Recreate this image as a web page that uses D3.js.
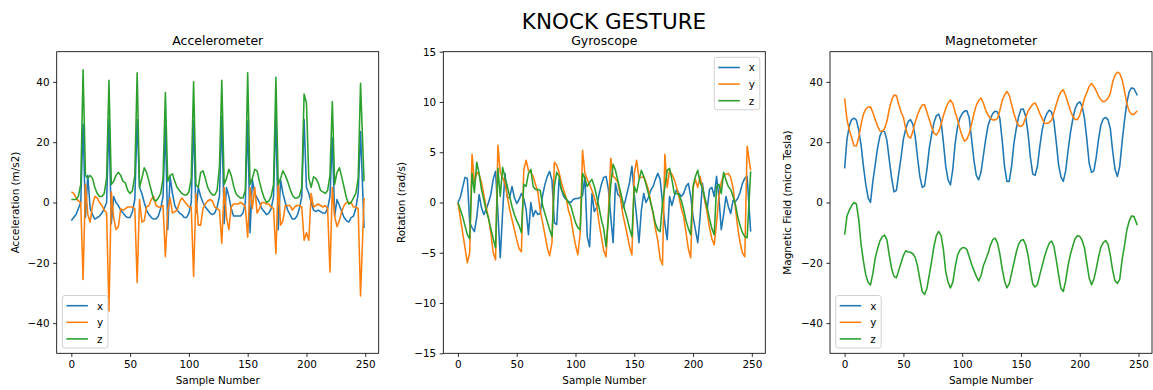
<!DOCTYPE html>
<html lang="en">
<head>
<meta charset="UTF-8">
<title>Knock Gesture</title>
<script src="https://d3js.org/d3.v7.min.js"></script>
<style>
  body { margin: 0; background: #fff; }
  svg { display: block; font-family: "DejaVu Sans", sans-serif; }
</style>
</head>
<body>
<svg width="1153" height="390"></svg>
<script>
// sample numbers (every 2nd sample, last one is 249)
const samples = d3.range(0, 248, 2).concat([249]);

// accelerometer (m/s2)
const accX = [
  -6, -5, -4, -2, 0, 26, -5, 9, -2, -4,
  -5.5, -5, -4.5, -3.5, -2, 0, 27.5, -7, 2, 0,
  -1, -2.5, -3.5, -4.5, -5, -5, -3, 1, 27.5, 5,
  3, 0, -2.5, -4, -5, -5.5, -5.5, -4.5, -2, 2,
  25.5, -9, 8.5, 3, -1, -2.5, -3.5, -4, -5, -5,
  -3.5, 0, 27, -3.5, 5, 2, 0, -1.5, -2.5, -3.5,
  -4, -3.5, -1.5, 2, 28.5, -7, 5, 2, -2, -4.5,
  -4.5, -4.5, -4.5, -3.5, 0, 27, -10, 7.5, 3, 1.5,
  0, -2, -3, -4, -3.5, -2, 2, 29, -9, 7.5,
  3, 0, -2.5, -4, -5.5, -5.5, -4.5, -2, 2, 27.5,
  5, 3, 0, -2.5, -3, -2.5, -3, -3.5, -3.5, -2,
  2, 21.5, -4.5, 1, -1, -3, -5, -6, -6.5, -5,
  -4.5, -2, 3, 23.5, -8.5
];
const accY = [
  3.5, 3, 1.5, 0.5, 0, -25.5, 6, -4, -6.5, -1,
  2, 1.5, 0, -1, -2.5, -3.5, -36, 3.5, -5, -9,
  -8, -2, -2.5, -2, -1.5, -1.5, -1.5, -2, -26.5, 1,
  -6.5, -6, -1.5, -1, 1, 2, -1, -1.5, -1.5, -1,
  -18, -2.5, 1.5, -3.5, -3, -2.5, 0, 1.5, 0.5, -0.5,
  -1.5, -1.5, -24.5, 3, -7.5, -7.5, -2, -0.5, 0.5, 1,
  0.5, -1.5, -2, -2.5, -13.5, 5, -5, -9, -1.5, -0.5,
  -0.5, -0.5, 0, -0.5, -1.5, -11.5, 5, -2, 5, -3.5,
  -2, 0, 0, -0.5, -0.5, -1.5, -2, -17, 7, -7.5,
  -6, -1, -1, -1, -2.5, -1.5, -1, -1, -1.5, -12.5,
  -10, -12.5, 3, -1.5, -1, -0.5, -1, -1.5, -1, -2,
  -23, 5, -4.5, -8, -6, -3, -1, 0, 0, 0,
  -1.5, -1.5, -2, -31, 1.5
];
const accZ = [
  1, 1, 1, 2, 6, 44, 9, 8, 9, 8,
  5, 3, 2, 2, 3, 8, 40.5, 6, 7, 9,
  10, 9, 7, 6.5, 4, 3, 4, 9, 43, 5,
  8, 11.5, 10, 7, 4, 1, 0.5, 1.5, 3, 8,
  36.5, 7, 9, 9.5, 7, 5, 4, 3, 2.5, 2.5,
  3.5, 8, 40, 6, 5, 10, 10.5, 8, 5, 3.5,
  2.5, 2.5, 4, 12, 40.5, 6, 8, 11, 9, 5.5,
  3, 2, 1.5, 1.5, 4, 43, 6, 8, 11, 10.5,
  7, 4, 1.5, 0, 0.5, 2, 6, 41.5, 6, 8,
  10.5, 9, 7, 4.5, 2.5, 1.5, 1.5, 2, 5, 36,
  33, 8, 5, 8.5, 8, 6.5, 4, 3.5, 3, 4,
  9, 33.5, 6, 10, 11.5, 8.5, 5, 1.5, -0.5, 0,
  1.5, 3, 8, 39.5, 7
];

// gyroscope (rad/s)
const gyroX = [
  0, 0.5, 1.5, 2.5, 2.4, -2, -2.5, -2.9, -1.5, 0.8,
  -0.5, -1.2, -0.7, 0, 0.8, 2.3, 3.1, -1, -5.5, -1,
  2.9, 0.5, 0.5, 1.6, 0.5, -0.1, 0.3, 0.9, 0.4, -0.7,
  -3.2, 0, -1.4, -0.8, -1.2, -1.1, 0.7, 1.8, 2.6, 3.1,
  2.2, -2, -2.2, 2.3, 1.3, 0.6, 0.3, 0.1, 0, 0.3,
  0.4, 0.4, 0.5, 0.7, 2.6, -3.4, -4.4, 0.9, -0.9, -0.5,
  0.8, 1.8, 2.5, 2.6, 1.3, -1.4, -4, 1.9, 0.8, 0.6,
  -0.6, 0, 1, 2, 3.6, 0.8, -1.4, -4, -0.8, 0.9,
  0, 0.5, 1.2, 1.6, 2.3, 2.9, 2.3, 0, -2.1, -3.7,
  0.6, -0.3, 0.6, 1.3, 0.9, 0.6, 0.9, 1.6, 1.9, 0.6,
  -1.4, -2.7, -4, -1.4, 1.9, 0.2, -0.7, 1.3, 1.5, 0.6,
  2.6, 0.5, -2.7, -1.2, 0.6, -0.4, -1.1, 0.2, 0.1, 0.4,
  1, 1.9, 2.4, 2.6, -2.9
];
const gyroY = [
  0, -1.5, -3, -4.5, -6, -5, 4.8, 2, 3, 2.8,
  2, 0.8, -0.5, -1.5, -3, -5, -5.7, 5.7, 3, 2.5,
  1.9, 0.6, -0.7, -1.7, -2.7, -3.7, -4.6, -4.9, 3.2, 4.2,
  3.2, 3, 2.6, 1.8, 1, -0.8, -2, -3.2, -4.5, -5.3,
  -4, 4, 3.7, 3, 2, 1.2, 0.5, -0.8, -1.5, -3,
  -4.2, -5.2, -3, 5.2, 2.9, 2.3, 1.8, 1.2, 0.5, -0.3,
  -2, -3.4, -4.8, -5.4, -1, 4.4, 2.6, 2.4, 2, 0.8,
  -1, -2.1, -3.2, -4.4, -5.2, 2.9, 4.2, 2.4, 2.5, 2.6,
  2, 1.3, 0, -1.1, -2.6, -3.8, -5.6, -6.2, 4.8, 1.5,
  3.2, 2.8, 2.3, 1.5, 0.6, -0.6, -1.4, -3, -4.6, -5.5,
  1.5, 2.3, 1.5, 2.6, 1.5, 0.2, -1, -2.5, -3.6, -4.2,
  -2, 0.6, 2, 2.8, 2.8, 2.9, 2.5, 1.5, -0.5, -2.5,
  -4, -5, -5.4, 5.6, 3.2
];
const gyroZ = [
  0, -0.7, -1.4, -2.3, -3.2, -3.6, 2.9, 1, 4, 2.9,
  1.3, 0.3, -0.8, -1.6, -2.6, -3.6, -4.5, 3.4, 0.6, 3.5,
  2.5, 1.6, 0.6, -0.4, -1.2, -1.8, -2.3, -3, 1.8, 1.6,
  2.9, 3.3, 1.6, 1.3, 1.3, 1.2, -0.3, -1.1, -1.9, -2.7,
  -3.4, 1.6, 3, 2.6, 1.3, 0.8, 0.4, 0, -0.3, -1.2,
  -2, -2.5, -2.7, 2.9, 2.4, 1.6, 2, 2.3, 1.6, 0.6,
  -0.5, -1.7, -2.6, -4.4, -1.5, 1.8, 3.8, 3.2, 2.2, 1.2,
  0.2, -0.8, -1.6, -2.6, -3.4, 1.6, 1, 2.2, 3.2, 2.6,
  1.8, 0.9, 0, -1, -2.1, -2.7, -2.9, 0, 1.5, 3.2,
  3.4, 2.3, 0.9, 0.9, 0.8, 0.2, -0.7, -1.8, -2.6, -3.2,
  1.6, 2.6, 3.2, 2, 1.4, 0.5, -0.5, -1.6, -2.6, -3.2,
  1.6, 1.8, 0.9, 3, 2.2, 1.6, 1.3, 0.6, -0.2, -1.4,
  -2.3, -3, -3.4, -3.5, 3.1
];

// magnetometer (micro Tesla)
const magX = [
  11.3, 21, 25.5, 27.5, 28, 27.3, 24, 19, 12, 6,
  1.5, 0, 7, 12.5, 18, 22, 23.8, 23.5, 20.5, 14,
  8, 3.5, 4, 9.5, 15, 21, 24.5, 26.8, 27.5, 26,
  22, 15, 8.6, 5, 5.5, 11, 18, 22.5, 26.5, 28.8,
  29.3, 27, 20, 12, 7.5, 5.8, 11, 19.5, 25, 28,
  29.5, 30.3, 30.4, 28, 21, 14, 9, 7.5, 10, 15.5,
  21, 25.5, 27.8, 29.5, 30.3, 30, 28, 20.7, 12, 7,
  7, 12, 19.6, 24.5, 28.5, 30.9, 31, 28.5, 23, 15,
  9.5, 9, 12, 18.5, 24, 27.5, 29.5, 30.6, 30, 27,
  20, 12.5, 8.5, 7, 10.5, 17, 23, 27.5, 31, 32.8,
  33.4, 32, 28, 21, 13, 10, 10.5, 15, 21, 25.7,
  27.7, 28.2, 27.5, 24.5, 17, 11, 8.6, 12, 20, 27,
  33, 36.7, 38, 37.8, 35.5
];
const magY = [
  34.5, 27.5, 24, 21.5, 18.8, 18.7, 21.5, 26, 29.3, 31,
  31.6, 31.7, 29.8, 27.5, 25.3, 23.7, 23.6, 24.5, 27, 31,
  34, 35.6, 35.5, 32.5, 30, 28.2, 24.5, 22, 21.3, 23.5,
  26.7, 29, 31, 32.3, 32.4, 30, 27.5, 25, 23, 22.4,
  23.5, 25.8, 28.8, 31.2, 33, 34, 32.8, 30, 27.5, 24.5,
  22, 20.3, 21, 22.9, 26, 29.5, 32.2, 33.8, 34.6, 33,
  30.6, 29, 28, 27.4, 27.4, 27.8, 30.5, 33.8, 35.6, 36.8,
  35.6, 32.5, 29.5, 27, 25.5, 25.2, 26, 28.2, 30.3, 31.5,
  32.6, 33, 31.5, 29.5, 27.8, 26.3, 26.2, 26.5, 27.3, 29.8,
  32.5, 35, 36.7, 37.4, 35.5, 33, 30.5, 28.6, 27.5, 27.5,
  29, 31.5, 34.5, 36.5, 38.5, 39.5, 38.5, 37, 35.3, 34,
  33.4, 33.7, 34.6, 36.2, 40, 42.2, 43.2, 42.8, 40.8, 37.2,
  32.8, 30.3, 29.3, 29.2, 30.4
];
const magZ = [
  -10.7, -4.5, -2.5, -1, 0, -0.5, -5.7, -14, -19.5, -24,
  -26.5, -27.3, -23.5, -18.5, -15.3, -12.8, -11.3, -10.8, -12.5, -17.5,
  -22, -24.5, -25, -22.5, -20, -17.5, -16, -16.4, -16.5, -17,
  -18.2, -21, -25.5, -29.5, -30.5, -28.5, -24, -19.5, -14.5, -11,
  -9.6, -10.8, -15.5, -23, -26.5, -28.3, -26.5, -21.5, -17.5, -15.8,
  -15, -15, -15.6, -18, -20.5, -22.5, -24.5, -26, -24.3, -21,
  -19, -16.8, -14.2, -12.3, -11.8, -13.4, -17, -22, -26, -28.3,
  -27, -23.5, -20, -16.5, -13.8, -12.6, -12.3, -14, -17.5, -22.5,
  -27, -28, -27.2, -24, -21, -18, -15.5, -13.5, -12.8, -14.5,
  -19, -24, -28.5, -29.5, -26, -21, -17.3, -14.5, -12, -11,
  -11.2, -12.5, -15, -20, -25, -27.3, -25.5, -22, -18, -14.8,
  -13.3, -12.6, -13.8, -17.5, -22.5, -26, -26.8, -25.5, -19, -14.5,
  -9.2, -6.2, -4.5, -4.6, -7.5
];

const seriesNames = ["x", "y", "z"];
const colors = ["#1f77b4", "#ff7f0e", "#2ca02c"];
const xTicks = [0, 50, 100, 150, 200, 250];

const panels = [
  { title: "Accelerometer", ylabel: "Acceleration (m/s2)", ydomain: [-50, 50],
    yticks: [-40, -20, 0, 20, 40], data: [accX, accY, accZ], left: 56.7, labelOffset: 41.5, legend: "lowerleft" },
  { title: "Gyroscope", ylabel: "Rotation (rad/s)", ydomain: [-15, 15],
    yticks: [-15, -10, -5, 0, 5, 10, 15], data: [gyroX, gyroY, gyroZ], left: 443.3, labelOffset: 42.3, legend: "upperright" },
  { title: "Magnetometer", ylabel: "Magnetic Field (micro Tesla)", ydomain: [-50, 50],
    yticks: [-40, -20, 0, 20, 40], data: [magX, magY, magZ], left: 830, labelOffset: 43, legend: "lowerleft" }
];

const svg = d3.select("svg");
const plotTop = 51.7, plotBottom = 353.3, plotW = 322;
const fmt = d => d < 0 ? "\u2212" + Math.abs(d) : String(d);

svg.append("text")
  .attr("x", 614).attr("y", 29)
  .attr("text-anchor", "middle")
  .attr("font-size", "21.5px")
  .text("KNOCK GESTURE");

panels.forEach(p => {
  const x = d3.scaleLinear().domain([-12.45, 261.45]).range([p.left, p.left + plotW]);
  const y = d3.scaleLinear().domain(p.ydomain).range([plotBottom, plotTop]);
  const g = svg.append("g");

  // 线条
  const line = d3.line().x((d, i) => x(samples[i])).y(d => y(d));
  p.data.forEach((vals, k) => {
    g.append("path")
      .datum(vals)
      .attr("d", line)
      .attr("fill", "none")
      .attr("stroke", colors[k])
      .attr("stroke-width", 1.56)
      .attr("stroke-linejoin", "round");
  });

  // 坐标轴
  const xAxis = g.append("g")
    .attr("transform", `translate(0,${plotBottom})`)
    .call(d3.axisBottom(x).tickValues(xTicks).tickFormat(fmt).tickSize(3.6).tickPadding(3.6));
  const yAxis = g.append("g")
    .attr("transform", `translate(${p.left},0)`)
    .call(d3.axisLeft(y).tickValues(p.yticks).tickFormat(fmt).tickSize(3.6).tickPadding(3.6));
  [xAxis, yAxis].forEach(a => {
    a.select(".domain").remove();
    a.selectAll("line").attr("stroke", "#000").attr("stroke-width", 0.83);
    a.selectAll("text").attr("font-size", "10.4px").attr("fill", "#000")
      .attr("font-family", "DejaVu Sans, sans-serif");
  });

  g.append("rect")
    .attr("x", p.left).attr("y", plotTop)
    .attr("width", plotW).attr("height", plotBottom - plotTop)
    .attr("fill", "none").attr("stroke", "#000").attr("stroke-width", 0.83);

  g.append("text")
    .attr("x", p.left + plotW / 2).attr("y", 45.2)
    .attr("text-anchor", "middle").attr("font-size", "12.5px")
    .text(p.title);

  g.append("text")
    .attr("x", p.left + plotW / 2).attr("y", 384)
    .attr("text-anchor", "middle").attr("font-size", "10.4px")
    .text("Sample Number");

  const cy = (plotTop + plotBottom) / 2;
  g.append("text")
    .attr("transform", `translate(${p.left - p.labelOffset},${cy}) rotate(-90)`)
    .attr("text-anchor", "middle").attr("dominant-baseline", "central")
    .attr("font-size", "10.4px")
    .text(p.ylabel);

  // 图例
  const lw = 45.5, lh = 52.5;
  const lx = p.legend === "upperright" ? p.left + plotW - 5.5 - lw : p.left + 5.7;
  const ly = p.legend === "upperright" ? plotTop + 5.6 : plotBottom - 5.3 - lh;
  const leg = g.append("g").attr("transform", `translate(${lx},${ly})`);
  leg.append("rect")
    .attr("width", lw).attr("height", lh).attr("rx", 2.5)
    .attr("fill", "#fff").attr("fill-opacity", 0.8)
    .attr("stroke", "#cccccc").attr("stroke-width", 0.9);
  seriesNames.forEach((n, k) => {
    const ry = 10.2 + k * 16.6;
    leg.append("line")
      .attr("x1", 4).attr("x2", 25.5).attr("y1", ry).attr("y2", ry)
      .attr("stroke", colors[k]).attr("stroke-width", 1.56);
    leg.append("text")
      .attr("x", 34.5).attr("y", ry)
      .attr("dominant-baseline", "central")
      .attr("font-size", "10.4px")
      .text(n);
  });
});
</script>
</body>
</html>
